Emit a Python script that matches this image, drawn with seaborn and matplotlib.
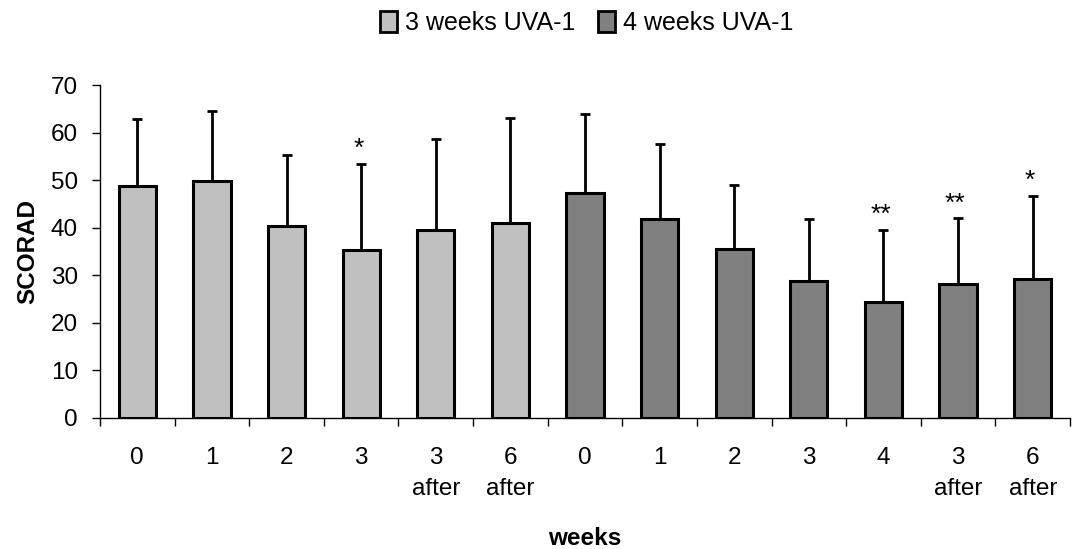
import numpy as np
import pandas as pd
import matplotlib
matplotlib.use("Agg")
import matplotlib.pyplot as plt
from matplotlib.patches import Patch
from matplotlib.ticker import FixedLocator
import seaborn as sns

# ---- data ----
week_labels = ["0", "1", "2", "3", "3\nafter", "6\nafter",
               "0", "1", "2", "3", "4", "3\nafter", "6\nafter"]
groups = ["3 weeks UVA-1"] * 6 + ["4 weeks UVA-1"] * 7
scorad_mean = [48.8, 49.8, 40.3, 35.4, 39.6, 40.9,
               47.4, 41.8, 35.5, 28.8, 24.3, 28.2, 29.3]
scorad_upper = [62.8, 64.5, 55.2, 53.4, 58.6, 63.0,
                64.0, 57.6, 49.0, 41.8, 39.6, 42.0, 46.7]
significance = ["", "", "", "*", "", "",
                "", "", "", "", "**", "**", "*"]
group_names = ["3 weeks UVA-1", "4 weeks UVA-1"]
group_colors = ["#C0C0C0", "#808080"]
y_ticks = [0, 10, 20, 30, 40, 50, 60, 70]

keys = [f"k{i}" for i in range(len(week_labels))]
df = pd.DataFrame({"key": keys, "score": scorad_mean, "group": groups})
sd = np.array(scorad_upper) - np.array(scorad_mean)

sns.set_style("white")
plt.rcParams["font.family"] = ["Liberation Sans", "DejaVu Sans"]
plt.rcParams["text.color"] = "black"
plt.rcParams["axes.labelcolor"] = "black"
plt.rcParams["xtick.color"] = "black"
plt.rcParams["ytick.color"] = "black"

FS = 17.5

fig = plt.figure(figsize=(10.72, 5.49), dpi=100)
ax = fig.add_axes([100 / 1072, 1 - 418 / 549, (1070 - 100) / 1072, (418 - 85) / 549])

sns.barplot(data=df, x="key", y="score", hue="group", order=keys,
            hue_order=group_names, palette=group_colors, dodge=False,
            width=0.5, edgecolor="black", linewidth=2.2, errorbar=None,
            legend=False, ax=ax, zorder=2)

xpos = np.arange(len(keys))
ax.errorbar(xpos, scorad_mean, yerr=[np.zeros_like(sd), sd], fmt="none",
            ecolor="black", elinewidth=2, capsize=3.6, capthick=2, zorder=1)

for x, top, s in zip(xpos, scorad_upper, significance):
    if s:
        ax.annotate(s, (x, top), xytext=(-2, 2), textcoords="offset points",
                    ha="center", va="bottom", fontsize=19)

ax.set_xlim(-0.5, len(keys) - 0.5)
ax.set_ylim(0, 70)
ax.set_yticks(y_ticks)
ax.set_xticks(xpos)
ax.set_xticklabels(week_labels, fontsize=FS, linespacing=1.5, va="top")
ax.xaxis.set_minor_locator(FixedLocator(np.arange(-0.5, len(keys), 1.0)))
ax.tick_params(axis="x", which="major", length=0, pad=21)
ax.tick_params(axis="x", which="minor", length=6, width=1, direction="out",
               color="black", bottom=True)
ax.tick_params(axis="y", length=6, width=1, direction="out", color="black",
               labelsize=FS, pad=10, left=True)
for side in ["top", "right"]:
    ax.spines[side].set_visible(False)
for side in ["left", "bottom"]:
    ax.spines[side].set_color("black")
    ax.spines[side].set_linewidth(1)

ax.set_ylabel("SCORAD", fontsize=FS, fontweight="bold", labelpad=8)
ax.set_xlabel("weeks", fontsize=FS, fontweight="bold", labelpad=20)

handles = [Patch(facecolor=c, edgecolor="black", linewidth=2, label=n)
           for n, c in zip(group_names, group_colors)]
fig.legend(handles=handles, loc="center", bbox_to_anchor=(587 / 1072, 1 - 23 / 549),
           ncol=2, frameon=False, fontsize=18, handlelength=0.65, handleheight=0.95,
           handletextpad=0.35, columnspacing=0.9)

fig.savefig("out.png", dpi=100)
